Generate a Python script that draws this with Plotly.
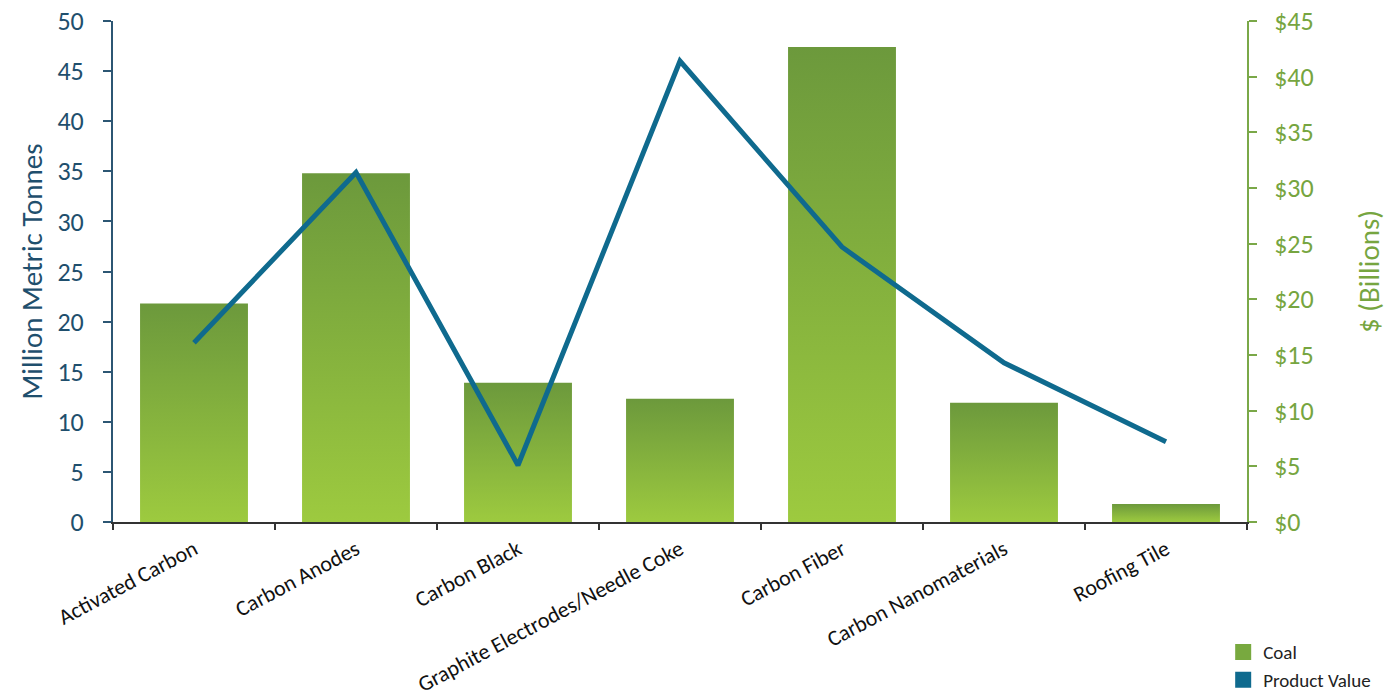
import plotly.graph_objects as go

categories = ["Activated Carbon", "Carbon Anodes", "Carbon Black",
              "Graphite Electrodes/Needle Coke", "Carbon Fiber",
              "Carbon Nanomaterials", "Roofing Tile"]
coal_mmt = [21.8, 34.8, 13.9, 12.3, 47.4, 11.9, 1.8]
product_value_bn = [16.1, 31.4, 5.1, 41.4, 24.7, 14.3, 7.2]

left_ticks = list(range(0, 55, 5))
right_ticks = list(range(0, 50, 5))
right_tick_labels = ["$" + str(t) for t in right_ticks]

BLUE_TXT = "#1f4f6d"
GREEN_TXT = "#76a540"
LINE_BLUE = "#0f6a8e"
BAR_TOP = "#6c993c"
BAR_BOT = "#9dca3f"
FONT = "Carlito, Lato, 'Open Sans', sans-serif"

half_w = 0.333
fig = go.Figure()

for i, v in enumerate(coal_mmt):
    fig.add_trace(go.Scatter(
        x=[i - half_w, i + half_w, i + half_w, i - half_w, i - half_w],
        y=[0, 0, v, v, 0],
        mode="lines", line=dict(width=0), fill="toself",
        fillgradient=dict(type="vertical",
                          colorscale=[[0, BAR_BOT], [1, BAR_TOP]],
                          start=0, stop=v),
        showlegend=False, hoverinfo="skip", yaxis="y"))

fig.add_trace(go.Scatter(
    x=list(range(len(categories))), y=product_value_bn, mode="lines",
    line=dict(color=LINE_BLUE, width=5), showlegend=False, yaxis="y2"))

# legend entries
fig.add_trace(go.Scatter(x=[None], y=[None], name="Coal", mode="markers",
                         marker=dict(symbol="square", size=16, color="#78a93f")))
fig.add_trace(go.Scatter(x=[None], y=[None], name="Product Value", mode="markers",
                         marker=dict(symbol="square", size=16, color="#0f6a8e")))

fig.update_layout(
    width=1394, height=697,
    margin=dict(l=113, r=147, t=21, b=175, autoexpand=False),
    plot_bgcolor="white", paper_bgcolor="white",
    font=dict(family=FONT),
    xaxis=dict(range=[-0.5, len(categories) - 0.5], tickmode="array",
               tickvals=list(range(len(categories))), ticktext=categories,
               tickangle=-28, ticks="", showgrid=False, zeroline=False,
               showline=True, linecolor="#333333", linewidth=2,
               ticklabelstandoff=4,
               tickfont=dict(size=22, color="#111111"),
               minor=dict(tickmode="array",
                          tickvals=[k - 0.5 for k in range(len(categories) + 1)],
                          ticks="outside", ticklen=6, tickcolor="#333333",
                          tickwidth=2, showgrid=False)),
    yaxis=dict(range=[0, 50], tickmode="array", tickvals=left_ticks,
               showgrid=False, zeroline=False, showline=True,
               linecolor="#2c5673", linewidth=2, ticks="outside",
               ticklen=8, tickcolor="#2c5673", tickwidth=2,
               ticklabelstandoff=14,
               tickfont=dict(size=26, color=BLUE_TXT),
               title=dict(text="Million Metric Tonnes",
                          font=dict(size=29, color=BLUE_TXT), standoff=6)),
    yaxis2=dict(range=[0, 45], tickmode="array", tickvals=right_ticks,
                ticktext=right_tick_labels, overlaying="y", side="right",
                showgrid=False, zeroline=False, showline=True,
                linecolor="#7aa848", linewidth=2, ticks="outside",
                ticklen=8, tickcolor="#7aa848", tickwidth=2,
                ticklabelstandoff=12,
                tickfont=dict(size=26, color=GREEN_TXT),
                title=dict(text="$ (Billions)",
                           font=dict(size=29, color=GREEN_TXT), standoff=46)),
    legend=dict(x=0.979, y=-0.222, xanchor="left", yanchor="top",
                orientation="v", font=dict(size=19, color="#222222"),
                bgcolor="rgba(0,0,0,0)", tracegroupgap=0, itemwidth=30),
)

fig.write_html("out.html")
